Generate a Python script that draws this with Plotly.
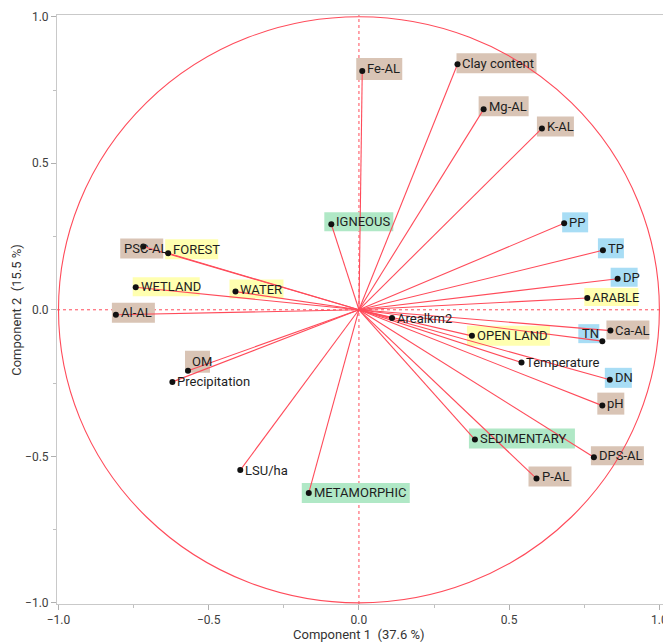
import plotly.graph_objects as go

# ---------------- data ----------------
names = ["Fe-AL", "Clay content", "Mg-AL", "K-AL", "IGNEOUS", "PP", "TP", "DP",
         "ARABLE", "Ca-AL", "TN", "DN", "pH", "SEDIMENTARY", "DPS-AL", "P-AL",
         "PSC-AL", "FOREST", "WETLAND", "WATER", "Al-AL", "OM", "Precipitation",
         "Arealkm2", "OPEN LAND", "Temperature", "LSU/ha", "METAMORPHIC"]
comp1 = [0.011, 0.328, 0.415, 0.609, -0.092, 0.683, 0.812, 0.861,
         0.760, 0.837, 0.810, 0.835, 0.810, 0.386, 0.782, 0.591,
         -0.718, -0.635, -0.743, -0.411, -0.809, -0.569, -0.621,
         0.110, 0.376, 0.541, -0.395, -0.167]
comp2 = [0.815, 0.838, 0.684, 0.619, 0.292, 0.295, 0.203, 0.106,
         0.040, -0.071, -0.107, -0.239, -0.327, -0.443, -0.503, -0.576,
         0.216, 0.193, 0.077, 0.062, -0.017, -0.208, -0.246,
         -0.028, -0.089, -0.180, -0.547, -0.625]
groups = ["soil", "soil", "soil", "soil", "geo", "water", "water", "water",
          "land", "soil", "water", "water", "soil", "geo", "soil", "soil",
          "soil", "land", "land", "land", "soil", "soil", None,
          None, "land", None, None, "geo"]
x_ticks = [-1.0, -0.5, 0.0, 0.5, 1.0]
y_ticks = [-1.0, -0.5, 0.0, 0.5, 1.0]
x_title = "Component 1  (37.6 %)"
y_title = "Component 2  (15.5 %)"

# ---------------- styles ----------------
group_colors = {"soil": "#d9c4b5", "land": "#ffffb0", "water": "#a8ddf5", "geo": "#b0e8c6"}
# label box offsets in px relative to the point: (left, right, up, down)
boxes = {
    "Fe-AL": (-6, 40, 13, 9), "Clay content": (-1, 79, 11, 9), "Mg-AL": (-5, 45, 13, 7),
    "K-AL": (-5, 32, 12, 8), "IGNEOUS": (-7, 62, 12, 7), "PP": (-2, 24, 11, 9),
    "TP": (-5, 21, 12, 8), "DP": (-7, 20, 11, 8), "ARABLE": (-3, 51, 10, 8),
    "Ca-AL": (-4, 39, 10, 9), "TN": (-24, -3, 17, 2), "DN": (-5, 22, 12, 8),
    "pH": (-5, 22, 13, 9), "SEDIMENTARY": (-6, 100, 11, 9), "DPS-AL": (-3, 50, 11, 8),
    "P-AL": (-8, 35, 12, 8), "PSC-AL": (-23, 20, 8, 12), "FOREST": (-3, 50, 14, 6),
    "WETLAND": (-3, 64, 10, 9), "WATER": (-6, 48, 12, 7), "Al-AL": (-4, 39, 12, 8),
    "OM": (-3, 22, 20, 2), "OPEN LAND": (-5, 78, 10, 10), "METAMORPHIC": (-7, 101, 10, 10),
}
text_dx = {"PSC-AL": -21, "TN": -22, "OM": 2}
RED = "rgb(255,75,90)"
FONT = "Roboto"

fig = go.Figure()

shapes = []
annotations = []
for n, xv, yv, g in zip(names, comp1, comp2, groups):
    if g is not None and n in boxes:
        l, r, up, down = boxes[n]
        shapes.append(dict(type="rect", xref="x", yref="y", xsizemode="pixel", ysizemode="pixel",
                           xanchor=xv, yanchor=yv, x0=l, x1=r, y0=-down, y1=up,
                           fillcolor=group_colors[g], line=dict(width=0), layer="below"))
        dy = (up - down) / 2.0
    else:
        dy = 0
    annotations.append(dict(x=xv, y=yv, xref="x", yref="y", text=n, showarrow=False,
                            xanchor="left", yanchor="middle", xshift=text_dx.get(n, 3), yshift=dy,
                            font=dict(family=FONT, size=13, color="#1e1e1e")))

# axis titles
annotations.append(dict(x=0, y=0, xref="x", yref="paper", text=x_title, showarrow=False,
                        xanchor="center", yanchor="middle", yshift=-30,
                        font=dict(family=FONT, size=13, color="#333333")))
annotations.append(dict(x=0, y=0, xref="paper", yref="y", text=y_title, showarrow=False,
                        xanchor="center", yanchor="middle", xshift=-40, textangle=-90,
                        font=dict(family=FONT, size=13, color="#333333")))

# unit circle and reference lines
shapes.append(dict(type="circle", xref="x", yref="y", x0=-1, y0=-1, x1=1, y1=1,
                   line=dict(color=RED, width=1.1), layer="below"))
shapes.append(dict(type="line", xref="x", yref="paper", x0=0, x1=0, y0=0, y1=1,
                   line=dict(color=RED, width=1, dash="dot"), layer="below"))
shapes.append(dict(type="line", xref="paper", yref="y", x0=0, x1=1, y0=0, y1=0,
                   line=dict(color=RED, width=1, dash="dot"), layer="below"))

# vectors from origin
vx, vy = [], []
for xv, yv in zip(comp1, comp2):
    vx += [0, xv, None]
    vy += [0, yv, None]
fig.add_trace(go.Scatter(x=vx, y=vy, mode="lines", line=dict(color=RED, width=1.1),
                         hoverinfo="skip", showlegend=False))
fig.add_trace(go.Scatter(x=comp1, y=comp2, mode="markers", text=names,
                         marker=dict(color="#111111", size=6), showlegend=False))

axis_common = dict(showline=True, mirror=True, linecolor="#c9c9c9", linewidth=1,
                   showgrid=False, zeroline=False, ticks="outside", ticklen=5,
                   tickcolor="#b0b0b0", tickformat=".1f", automargin=False,
                   tickfont=dict(family=FONT, size=12, color="#404040"),
                   minor=dict(dtick=0.25, ticklen=3, tickcolor="#c0c0c0", ticks="outside", showgrid=False))
fig.update_xaxes(range=[-1.005, 1.012], tickvals=x_ticks, **axis_common)
fig.update_yaxes(range=[-1.004, 1.006], tickvals=y_ticks, **axis_common)

# the page body adds an 8px offset; size the figure so the plot lands where the reference has it
fig.update_layout(width=663, height=635, margin=dict(l=49, r=8, t=7, b=39),
                  paper_bgcolor="white", plot_bgcolor="white", hovermode=False,
                  shapes=shapes, annotations=annotations, font=dict(family=FONT))
fig.write_html("out.html")
